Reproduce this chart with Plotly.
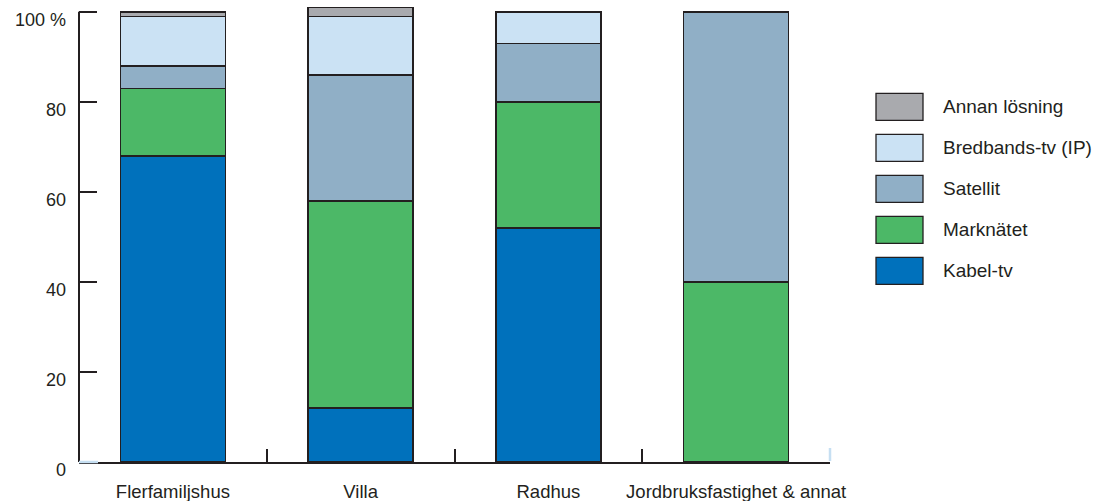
import plotly.graph_objects as go

categories = ["Flerfamiljshus", "Villa", "Radhus", "Jordbruksfastighet & annat"]

kabel_tv = [68, 12, 52, 0]
marknatet = [15, 46, 28, 40]
satellit = [5, 28, 13, 60]
bredbands_tv = [11, 13, 7, 0]
annan = [1, 2, 0, 0]

series_names = ["Kabel-tv", "Marknätet", "Satellit", "Bredbands-tv (IP)", "Annan lösning"]
series_values = [kabel_tv, marknatet, satellit, bredbands_tv, annan]
series_colors = ["#0071bc", "#4cb867", "#90afc6", "#cbe2f4", "#a9aaae"]

y_tickvals = [0, 20, 40, 60, 80, 100]
y_ticktext = ["0", "20", "40", "60", "80", "100 %"]

FONT = "Liberation Sans, Arial, sans-serif"
DARK = "#231f20"
LIGHTBLUE = "#c6dff2"

Y_MAX = 101.3

fig = go.Figure()
for name, vals, col in zip(series_names, series_values, series_colors):
    fig.add_trace(go.Bar(
        x=categories, y=vals, name=name,
        marker=dict(color=col, line=dict(color=DARK, width=1.5)),
        width=0.56, showlegend=False,
    ))

W, H = 1096, 501
L, R, B = 79, 266, 39
px_per_unit = 450 / 100
T = round(12 - (Y_MAX - 100) * px_per_unit, 2)
pw = W - L - R
ph = H - T - B

def px_x(px):
    return (px - L) / pw

def px_y(py):
    return (H - B - py) / ph

shapes = []
annotations = []
# custom legend (top-to-bottom reverse of stacking order)
row_centers = [107, 148, 189, 230, 271]
for i, (name, col) in enumerate(zip(series_names[::-1], series_colors[::-1])):
    cy = row_centers[i]
    shapes.append(dict(type="rect", xref="paper", yref="paper",
                       x0=px_x(876), x1=px_x(923), y0=px_y(cy + 13.5), y1=px_y(cy - 13.5),
                       fillcolor=col, line=dict(color=DARK, width=1.3)))
    annotations.append(dict(xref="paper", yref="paper", x=px_x(941), y=px_y(cy),
                            text=name, showarrow=False, xanchor="left", yanchor="middle",
                            font=dict(family=FONT, size=19, color=DARK)))

# y axis line from 0 to 100
shapes.append(dict(type="line", xref="x domain", yref="y", x0=0, x1=0, y0=0, y1=100,
                   line=dict(color=DARK, width=2), layer="above"))
# light-blue artifacts on the axis corners
shapes.append(dict(type="line", xref="x domain", yref="y domain", xsizemode="pixel",
                   xanchor=0, x0=0, x1=19, y0=0, y1=0,
                   line=dict(color=LIGHTBLUE, width=2.5), layer="above"))
shapes.append(dict(type="line", xref="x domain", yref="y domain", ysizemode="pixel",
                   yanchor=0, x0=1, x1=1, y0=1, y1=14,
                   line=dict(color=LIGHTBLUE, width=2.5), layer="above"))

fig.update_layout(
    barmode="stack",
    width=W, height=H,
    margin=dict(l=L, r=R, t=T, b=B, pad=0, autoexpand=False),
    paper_bgcolor="white", plot_bgcolor="white",
    font=dict(family=FONT, size=17, color=DARK),
    shapes=shapes, annotations=annotations,
    xaxis=dict(
        type="category", range=[-0.5, 3.5], autorange=False,
        showline=True, linecolor=DARK, linewidth=2,
        ticks="inside", tickson="boundaries", ticklen=13, tickwidth=2, tickcolor=DARK,
        showgrid=False, zeroline=False, tickangle=0, automargin=False,
        tickfont=dict(family=FONT, size=18.5, color=DARK),
        ticklabelstandoff=12,
    ),
    yaxis=dict(
        range=[0, Y_MAX], autorange=False,
        showline=False,
        ticks="inside", ticklen=18, tickwidth=2, tickcolor=DARK,
        tickmode="array", tickvals=y_tickvals, ticktext=y_ticktext,
        showgrid=False, zeroline=False, automargin=False,
        tickfont=dict(family=FONT, size=18, color=DARK),
        ticklabelshift=8, ticklabelstandoff=12,
    ),
)

fig.write_html("out.html")
